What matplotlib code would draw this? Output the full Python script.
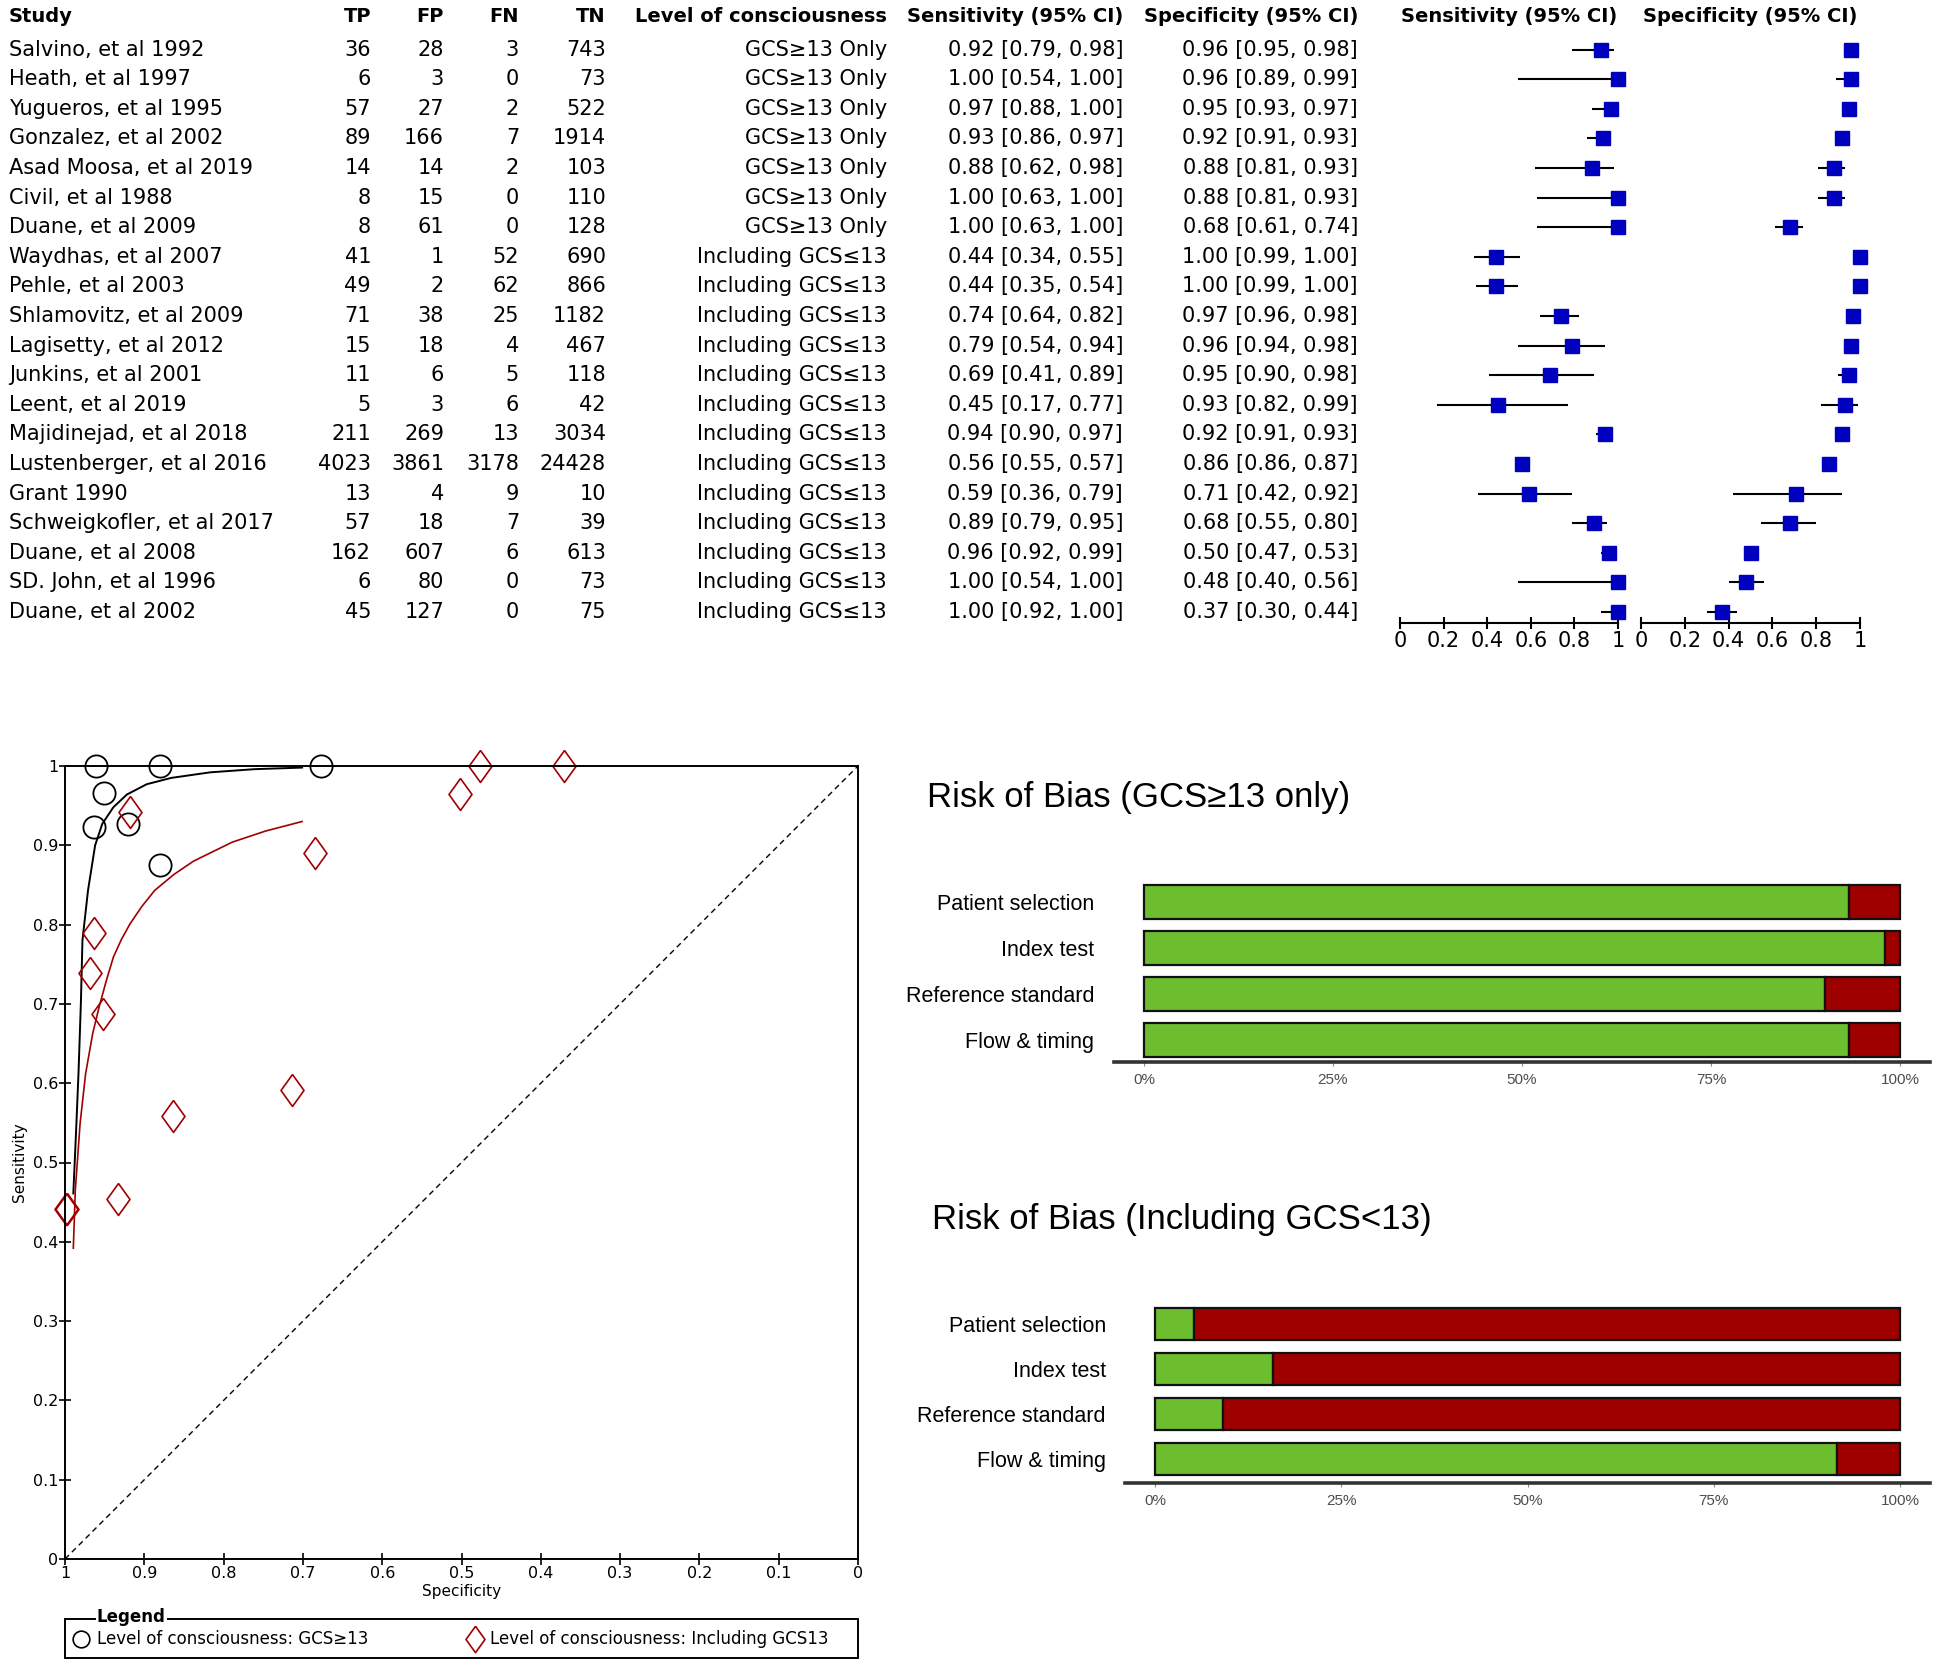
import matplotlib
matplotlib.use("Agg")
import matplotlib.pyplot as plt
from matplotlib.patches import Rectangle

# ---- data -------------------------------------------------------------
studies = ["Salvino, et al 1992", "Heath, et al 1997", "Yugueros, et al 1995",
           "Gonzalez, et al 2002", "Asad Moosa, et al 2019", "Civil, et al 1988",
           "Duane, et al 2009", "Waydhas, et al 2007", "Pehle, et al 2003",
           "Shlamovitz, et al 2009", "Lagisetty, et al 2012", "Junkins, et al 2001",
           "Leent, et al 2019", "Majidinejad, et al 2018", "Lustenberger, et al 2016",
           "Grant 1990", "Schweigkofler, et al 2017", "Duane, et al 2008",
           "SD. John, et al 1996", "Duane, et al 2002"]
tp = [36, 6, 57, 89, 14, 8, 8, 41, 49, 71, 15, 11, 5, 211, 4023, 13, 57, 162, 6, 45]
fp = [28, 3, 27, 166, 14, 15, 61, 1, 2, 38, 18, 6, 3, 269, 3861, 4, 18, 607, 80, 127]
fn = [3, 0, 2, 7, 2, 0, 0, 52, 62, 25, 4, 5, 6, 13, 3178, 9, 7, 6, 0, 0]
tn = [743, 73, 522, 1914, 103, 110, 128, 690, 866, 1182, 467, 118, 42, 3034, 24428,
      10, 39, 613, 73, 75]
level = ["GCS≥13 Only"] * 7 + ["Including GCS≤13"] * 13

sens = [0.92, 1.00, 0.97, 0.93, 0.88, 1.00, 1.00, 0.44, 0.44, 0.74, 0.79, 0.69, 0.45,
        0.94, 0.56, 0.59, 0.89, 0.96, 1.00, 1.00]
sens_lo = [0.79, 0.54, 0.88, 0.86, 0.62, 0.63, 0.63, 0.34, 0.35, 0.64, 0.54, 0.41, 0.17,
           0.90, 0.55, 0.36, 0.79, 0.92, 0.54, 0.92]
sens_hi = [0.98, 1.00, 1.00, 0.97, 0.98, 1.00, 1.00, 0.55, 0.54, 0.82, 0.94, 0.89, 0.77,
           0.97, 0.57, 0.79, 0.95, 0.99, 1.00, 1.00]
spec = [0.96, 0.96, 0.95, 0.92, 0.88, 0.88, 0.68, 1.00, 1.00, 0.97, 0.96, 0.95, 0.93,
        0.92, 0.86, 0.71, 0.68, 0.50, 0.48, 0.37]
spec_lo = [0.95, 0.89, 0.93, 0.91, 0.81, 0.81, 0.61, 0.99, 0.99, 0.96, 0.94, 0.90, 0.82,
           0.91, 0.86, 0.42, 0.55, 0.47, 0.40, 0.30]
spec_hi = [0.98, 0.99, 0.97, 0.93, 0.93, 0.93, 0.74, 1.00, 1.00, 0.98, 0.98, 0.98, 0.99,
           0.93, 0.87, 0.92, 0.80, 0.53, 0.56, 0.44]

# SROC curves (specificity, sensitivity)
curve_only_spec = [0.9895, 0.986, 0.983, 0.980, 0.978, 0.971, 0.962, 0.953, 0.939,
                   0.922, 0.897, 0.866, 0.817, 0.761, 0.701]
curve_only_sens = [0.461, 0.540, 0.612, 0.700, 0.780, 0.843, 0.900, 0.927, 0.948,
                   0.964, 0.977, 0.985, 0.992, 0.996, 0.998]
curve_incl_spec = [0.9895, 0.987, 0.981, 0.974, 0.965, 0.957, 0.948, 0.939, 0.929,
                   0.918, 0.903, 0.887, 0.863, 0.838, 0.789, 0.747, 0.701]
curve_incl_sens = [0.392, 0.465, 0.549, 0.612, 0.663, 0.696, 0.729, 0.759, 0.781,
                   0.801, 0.823, 0.843, 0.863, 0.880, 0.904, 0.918, 0.930]

rob_domains = ["Patient selection", "Index test", "Reference standard", "Flow & timing"]
rob_only_low = [0.932, 0.980, 0.901, 0.932]
rob_incl_low = [0.053, 0.158, 0.091, 0.915]

GREEN = "#6CBE2F"
RED = "#9E0000"
BLUE = "#0000BF"
DARKRED = "#A00000"

W, H = 1946, 1663
fig = plt.figure(figsize=(W / 100, H / 100), dpi=100)
plt.rcParams['font.family'] = ['DejaVu Sans']


def px_box(l, t, r, b):
    return [l / W, 1 - b / H, (r - l) / W, (b - t) / H]


bg = fig.add_axes([0, 0, 1, 1])
bg.set_xlim(0, W)
bg.set_ylim(H, 0)
bg.axis('off')

# ---- table ---------------------------------------------------------------
row0, dy = 49.6, 29.6
hdr_y = 17
fs, fsb = 15, 14
cols = [("Study", 9, "left"), ("TP", 371, "right"), ("FP", 444, "right"),
        ("FN", 519, "right"), ("TN", 606, "right"),
        ("Level of consciousness", 887, "right"),
        ("Sensitivity (95% CI)", 1123, "right"), ("Specificity (95% CI)", 1358, "right")]
for name, x, ha in cols:
    bg.text(x, hdr_y, name, ha=ha, va="center", fontsize=fsb, fontweight="bold")
bg.text(1401, hdr_y, "Sensitivity (95% CI)", ha="left", va="center", fontsize=fsb,
        fontweight="bold")
bg.text(1643, hdr_y, "Specificity (95% CI)", ha="left", va="center", fontsize=fsb,
        fontweight="bold")

for i in range(len(studies)):
    y = row0 + dy * i
    vals = [studies[i], str(tp[i]), str(fp[i]), str(fn[i]), str(tn[i]), level[i],
            f"{sens[i]:.2f} [{sens_lo[i]:.2f}, {sens_hi[i]:.2f}]",
            f"{spec[i]:.2f} [{spec_lo[i]:.2f}, {spec_hi[i]:.2f}]"]
    for (name, x, ha), v in zip(cols, vals):
        bg.text(x, y, v, ha=ha, va="center", fontsize=fs)

# ---- forest plots --------------------------------------------------------
ys = list(range(len(studies)))
for est, lo, hi, l, r in [(sens, sens_lo, sens_hi, 1400, 1618),
                          (spec, spec_lo, spec_hi, 1641, 1860)]:
    ax = fig.add_axes(px_box(l, 30, r, 623))
    ax.set_xlim(0, 1)
    ax.set_ylim((623 - row0) / dy, (30 - row0) / dy)
    ax.hlines(ys, lo, hi, color="black", lw=1.5, clip_on=False)
    ax.plot(est, ys, "s", ms=10.5, color=BLUE, clip_on=False)
    for s in ["left", "top", "right"]:
        ax.spines[s].set_visible(False)
    ax.spines["bottom"].set_linewidth(1.5)
    ax.set_xticks([0, 0.2, 0.4, 0.6, 0.8, 1])
    ax.set_xticklabels(["0", "0.2", "0.4", "0.6", "0.8", "1"])
    ax.tick_params(axis="x", direction="inout", length=9, width=1.5, labelsize=fs, pad=1)
    ax.set_yticks([])
    ax.patch.set_visible(False)

# ---- SROC plot -----------------------------------------------------------
# study points: sensitivity and specificity from the 2x2 counts
pt_sens = [a / (a + c) for a, c in zip(tp, fn)]
pt_spec = [d / (d + b) for b, d in zip(fp, tn)]
only_spec, only_sens = pt_spec[:7], pt_sens[:7]
incl_spec, incl_sens = pt_spec[7:], pt_sens[7:]

ax = fig.add_axes(px_box(65, 766, 858, 1559))
ax.set_xlim(1, 0)
ax.set_ylim(0, 1)
ax.plot([1, 0], [0, 1], "--", color="black", lw=1.0, dashes=(4, 3))
ax.plot(curve_only_spec, curve_only_sens, color="black", lw=1.4)
ax.plot(curve_incl_spec, curve_incl_sens, color=DARKRED, lw=1.2)
ax.plot(only_spec, only_sens, "o", ms=16, mfc="none", mec="black", mew=1.3,
        clip_on=False)
diamond = [(0, 1), (0.72, 0), (0, -1), (-0.72, 0), (0, 1)]
ax.plot(incl_spec, incl_sens, linestyle="none", marker=diamond, ms=23, mfc="none",
        mec=DARKRED, mew=1.2, clip_on=False)
ticks = [1, 0.9, 0.8, 0.7, 0.6, 0.5, 0.4, 0.3, 0.2, 0.1, 0]
labels = ["1", "0.9", "0.8", "0.7", "0.6", "0.5", "0.4", "0.3", "0.2", "0.1", "0"]
ax.set_xticks(ticks)
ax.set_xticklabels(labels)
ax.set_yticks(ticks)
ax.set_yticklabels(labels)
ax.tick_params(direction="inout", length=8, width=1.2, labelsize=11.5, pad=1)
for s in ax.spines.values():
    s.set_linewidth(1.4)
ax.set_xlabel("Specificity", fontsize=11, labelpad=2)
ax.set_ylabel("Sensitivity", fontsize=11, labelpad=4)

# legend box
bg.add_patch(Rectangle((65, 1619), 793, 39, fill=False, ec="black", lw=1.4))
bg.text(97, 1617, "Legend", ha="left", va="center", fontsize=12, fontweight="bold",
        bbox=dict(fc="white", ec="none", pad=1))
bg.plot([81], [1639], "o", ms=12, mfc="none", mec="black", mew=1.2)
bg.text(97, 1639, "Level of consciousness: GCS≥13", ha="left", va="center", fontsize=12)
bg.plot([475], [1639], linestyle="none", marker=diamond, ms=19, mfc="none",
        mec=DARKRED, mew=1.2)
bg.text(490, 1639, "Level of consciousness: Including GCS13", ha="left", va="center",
        fontsize=12)


# ---- risk of bias panels ---------------------------------------------------
def rob_panel(l0, l100, axis_y, first_row, spacing, low, title, title_xy):
    per = l100 - l0
    left, right = l0 - 0.04 * per, l100 + 0.04 * per
    top = first_row - 0.5 * spacing
    a = fig.add_axes(px_box(left, top, right, axis_y))
    a.set_xlim(-0.04, 1.04)
    a.set_ylim(3 + (axis_y - (first_row + 3 * spacing)) / spacing, -0.5)
    pos = list(range(len(rob_domains)))
    high = [1 - v for v in low]
    a.barh(pos, low, height=0.72, color=GREEN, edgecolor="#111111", lw=1.6)
    a.barh(pos, high, left=low, height=0.72, color=RED, edgecolor="#111111", lw=1.6)
    a.set_yticks(pos)
    a.set_yticklabels(rob_domains, family=["Liberation Sans", "DejaVu Sans"],
                      fontsize=15.5)
    a.set_xticks([0, 0.25, 0.5, 0.75, 1])
    a.set_xticklabels(["0%", "25%", "50%", "75%", "100%"],
                      family=["Liberation Sans", "DejaVu Sans"], fontsize=11,
                      color="#4D4D4D")
    a.tick_params(axis="y", length=0, pad=14)
    a.tick_params(axis="x", length=3, color="#888888", pad=5)
    for s in ["left", "top", "right"]:
        a.spines[s].set_visible(False)
    a.spines["bottom"].set_linewidth(2.6)
    a.spines["bottom"].set_color("#333333")
    a.patch.set_visible(False)
    bg.text(title_xy[0], title_xy[1], title, ha="left", va="center", fontsize=25,
            family=["Liberation Sans", "DejaVu Sans"])


rob_panel(1144, 1900, 1062, 902, 46, rob_only_low, "Risk of Bias (GCS≥13 only)",
          (927, 798))
rob_panel(1155, 1900, 1483, 1324, 45, rob_incl_low, "Risk of Bias (Including GCS<13)",
          (932, 1219))

fig.savefig("out.png", dpi=100)
